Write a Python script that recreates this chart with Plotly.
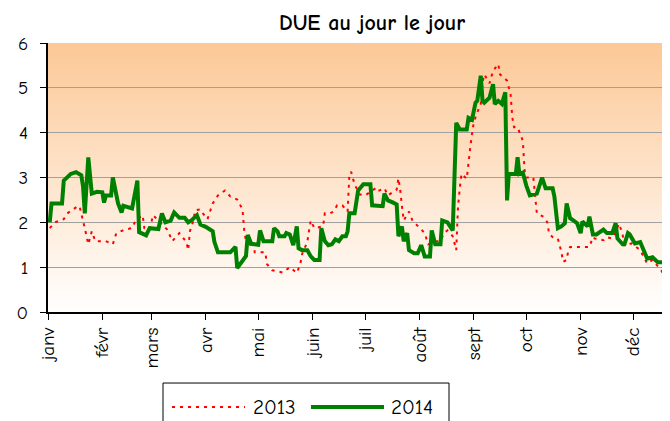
import base64
import plotly.graph_objects as go

# ---- data (day of year, value) ----
days_2014 = [1, 2, 8, 9, 13, 16, 19, 20, 21, 23, 25, 28, 31, 32, 33, 36, 37, 40, 42, 43,
             48, 49, 51, 52, 56, 58, 63, 65, 67, 70, 72, 75, 78, 80, 82, 85, 87, 90, 94, 95,
             97, 104, 106, 107, 108, 111, 113, 114, 116, 120, 121, 123, 128, 129, 131, 132, 135, 136, 138, 140,
             142, 143, 145, 148, 150, 152, 155, 156, 158, 160, 162, 164, 166, 168, 170, 171, 172, 175, 177, 180,
             184, 185, 188, 191, 192, 194, 197, 199, 200, 202, 203, 205, 206, 209, 211, 213, 215, 218, 219, 221,
             224, 225, 228, 231, 233, 235, 239, 240, 242, 244, 245, 247, 248, 249, 252, 254, 255, 257, 259, 261,
             262, 263, 267, 268, 269, 271, 273, 275, 279, 282, 284, 288, 289, 291, 293, 295, 296, 298, 300, 302,
             304, 305, 308, 309, 311, 313, 317, 319, 322, 324, 325, 328, 329, 331, 332, 335, 338, 340, 342, 345,
             348, 351, 352, 354]
vals_2014 = [2.0, 2.42, 2.42, 2.93, 3.08, 3.12, 3.05, 2.8, 2.2, 3.45, 2.64, 2.68, 2.67, 2.44, 2.6, 2.6, 3.0, 2.42, 2.22, 2.37,
             2.31, 2.49, 2.93, 1.78, 1.71, 1.87, 1.85, 2.2, 2.0, 2.04, 2.22, 2.1, 2.1, 2.0, 2.05, 2.16, 1.95, 1.9, 1.8, 1.56,
             1.33, 1.33, 1.4, 1.45, 0.98, 1.16, 1.25, 1.72, 1.52, 1.5, 1.82, 1.58, 1.58, 1.87, 1.8, 1.69, 1.69, 1.76, 1.73, 1.49,
             1.91, 1.42, 1.38, 1.38, 1.24, 1.16, 1.16, 1.87, 1.58, 1.49, 1.51, 1.62, 1.58, 1.69, 1.69, 1.8, 2.2, 2.2, 2.71, 2.85,
             2.85, 2.38, 2.36, 2.36, 2.64, 2.49, 2.44, 2.4, 1.69, 1.91, 1.58, 1.76, 1.38, 1.31, 1.31, 1.49, 1.24, 1.24, 1.82, 1.51,
             1.51, 2.04, 2.0, 1.82, 4.22, 4.07, 4.07, 4.33, 4.29, 4.67, 4.71, 5.27, 4.71, 4.67, 4.78, 5.08, 4.64, 4.71, 4.64, 4.9,
             2.49, 3.08, 3.08, 3.45, 3.08, 3.11, 2.82, 2.6, 2.64, 3.0, 2.76, 2.76, 2.58, 1.87, 1.91, 1.98, 2.42, 2.09, 2.04, 1.98,
             1.76, 2.02, 1.91, 2.13, 1.73, 1.73, 1.84, 1.76, 1.76, 1.98, 1.64, 1.51, 1.51, 1.76, 1.73, 1.53, 1.56, 1.38, 1.19, 1.22,
             1.11, 1.11, 1.13, 0.79]

days_2013 = [1, 4, 9, 11, 17, 18, 21, 23, 25, 27, 33, 37, 39, 44, 48, 50, 54, 55, 58, 60,
             68, 71, 75, 79, 80, 81, 83, 84, 87, 88, 91, 94, 97, 101, 104, 108, 111, 112, 113, 115,
             117, 118, 121, 124, 125, 128, 134, 138, 142, 144, 145, 148, 149, 150, 152, 157, 158, 161, 163, 165,
             168, 171, 172, 173, 175, 178, 181, 187, 188, 192, 194, 199, 200, 201, 202, 203, 206, 208, 213, 215,
             217, 222, 224, 226, 228, 231, 233, 234, 235, 236, 239, 240, 241, 242, 243, 245, 247, 248, 249, 252,
             254, 257, 258, 262, 264, 265, 266, 268, 271, 272, 273, 277, 279, 283, 285, 286, 288, 291, 293, 294,
             296, 297, 298, 304, 309, 311, 312, 317, 319, 322, 326, 328, 329, 333, 336, 338, 342, 345, 350, 353,
             354]
vals_2013 = [1.87, 2.0, 2.07, 2.2, 2.36, 2.36, 1.87, 1.51, 1.8, 1.58, 1.58, 1.51, 1.76, 1.84, 1.87, 2.04, 2.16, 1.87, 1.84, 2.16,
             1.84, 1.58, 1.76, 1.56, 1.38, 1.8, 2.04, 2.27, 2.29, 2.22, 2.07, 2.42, 2.6, 2.71, 2.58, 2.51, 2.29, 1.82, 1.58, 1.51,
             1.58, 1.33, 1.33, 1.33, 1.07, 0.93, 0.88, 1.0, 0.87, 1.07, 1.29, 1.56, 1.82, 2.04, 1.87, 1.91, 2.2, 2.2, 2.24, 2.38,
             2.38, 2.24, 3.05, 3.13, 2.84, 2.62, 2.6, 2.76, 2.69, 2.76, 2.6, 2.73, 2.98, 2.73, 2.36, 2.04, 2.24, 2.04, 1.84, 1.76,
             1.51, 1.58, 1.58, 1.76, 1.82, 1.69, 1.38, 2.34, 2.75, 3.08, 2.97, 3.38, 3.67, 3.97, 4.23, 4.45, 4.64, 5.12, 5.3, 5.1,
             5.38, 5.53, 5.3, 5.16, 4.86, 4.34, 4.12, 4.12, 3.82, 3.16, 3.0, 3.0, 2.2, 2.12, 2.0, 1.75, 1.67, 1.64, 1.34, 1.12,
             1.16, 1.38, 1.45, 1.45, 1.45, 1.67, 1.64, 1.6, 1.67, 1.64, 1.97, 1.71, 1.49, 1.53, 1.45, 1.38, 1.08, 1.16, 0.93, 0.71,
             0.53]

month_starts = [0, 31, 59, 90, 120, 151, 181, 212, 243, 273, 304, 334]
month_labels = ["janv", "févr", "mars", "avr", "mai", "juin", "juil", "août", "sept", "oct", "nov", "déc"]
series_names = ["2013", "2014"]
series_colors = ["#FF0000", "#008000"]

assert len(days_2014) == len(vals_2014)
assert len(days_2013) == len(vals_2013)

FONT = "Comic Sans MS, Comic Neue, DejaVu Sans, sans-serif"

# vertical gradient background (orange at top -> white at bottom)
svg = ('<svg xmlns="http://www.w3.org/2000/svg" width="10" height="100" viewBox="0 0 10 100" '
       'preserveAspectRatio="none"><defs><linearGradient id="g" x1="0" y1="0" x2="0" y2="1">'
       '<stop offset="0" stop-color="#FCC896"/><stop offset="1" stop-color="#FFFFFF"/>'
       '</linearGradient></defs><rect width="10" height="100" fill="url(#g)"/></svg>')
bg_src = "data:image/svg+xml;base64," + base64.b64encode(svg.encode()).decode()

styles = [dict(color=series_colors[0], width=2, dash="3px,5px"),
          dict(color=series_colors[1], width=4)]

fig = go.Figure()
fig.add_trace(go.Scatter(x=days_2013, y=vals_2013, mode="lines", name=series_names[0], line=styles[0]))
fig.add_trace(go.Scatter(x=days_2014, y=vals_2014, mode="lines", name=series_names[1], line=styles[1]))

# legend drawn as a boxed row below the plot (long line samples as in the original)
LEG_Y = -0.353
shapes = [
    dict(type="rect", xref="paper", yref="paper", x0=0.1849, x1=0.6447, y0=-0.264, y1=-0.52,
         line=dict(color="black", width=1), fillcolor="white", layer="above"),
    dict(type="line", xref="paper", yref="paper", x0=0.1994, x1=0.3167, y0=LEG_Y, y1=LEG_Y,
         line=styles[0]),
    dict(type="line", xref="paper", yref="paper", x0=0.4228, x1=0.5402, y0=LEG_Y, y1=LEG_Y,
         line=styles[1]),
]
annotations = [
    dict(text=series_names[0], xref="paper", yref="paper", x=0.326, y=LEG_Y, xanchor="left",
         yanchor="middle", showarrow=False, font=dict(size=21, family=FONT, color="black")),
    dict(text=series_names[1], xref="paper", yref="paper", x=0.548, y=LEG_Y, xanchor="left",
         yanchor="middle", showarrow=False, font=dict(size=21, family=FONT, color="black")),
]

# the page body keeps an 8px default margin, so the figure is sized to fill the rest
W, H = 662, 413

fig.update_layout(
    width=W, height=H,
    margin=dict(l=40, r=0, t=35, b=109),
    paper_bgcolor="white",
    plot_bgcolor="rgba(0,0,0,0)",
    font=dict(family=FONT, color="black"),
    title=dict(text="<b>DUE au jour le jour</b>", x=364 / W, xref="container", xanchor="center",
               y=1 - 14 / H, yref="container", yanchor="middle",
               font=dict(size=22, family=FONT, color="black", weight="bold")),
    images=[dict(source=bg_src, xref="paper", yref="paper", x=0, y=1, sizex=1, sizey=1,
                 xanchor="left", yanchor="top", sizing="stretch", layer="below")],
    xaxis=dict(range=[0, 355], tickmode="array", tickvals=month_starts, ticktext=month_labels,
               tickangle=-90, ticks="outside", ticklen=6, tickcolor="black", tickwidth=1,
               showline=True, linecolor="black", linewidth=2, showgrid=False, zeroline=False,
               tickfont=dict(size=19, family=FONT), automargin=False),
    yaxis=dict(range=[0, 6], dtick=1, tick0=0, ticks="outside", ticklen=6, tickcolor="black",
               showline=True, linecolor="black", linewidth=2, showgrid=True, gridcolor="#A0A0A0",
               gridwidth=1, zeroline=False, tickfont=dict(size=19, family=FONT), automargin=False,
               ticklabelstandoff=8),
    shapes=shapes,
    annotations=annotations,
    showlegend=False,
)

fig.write_html("out.html")
